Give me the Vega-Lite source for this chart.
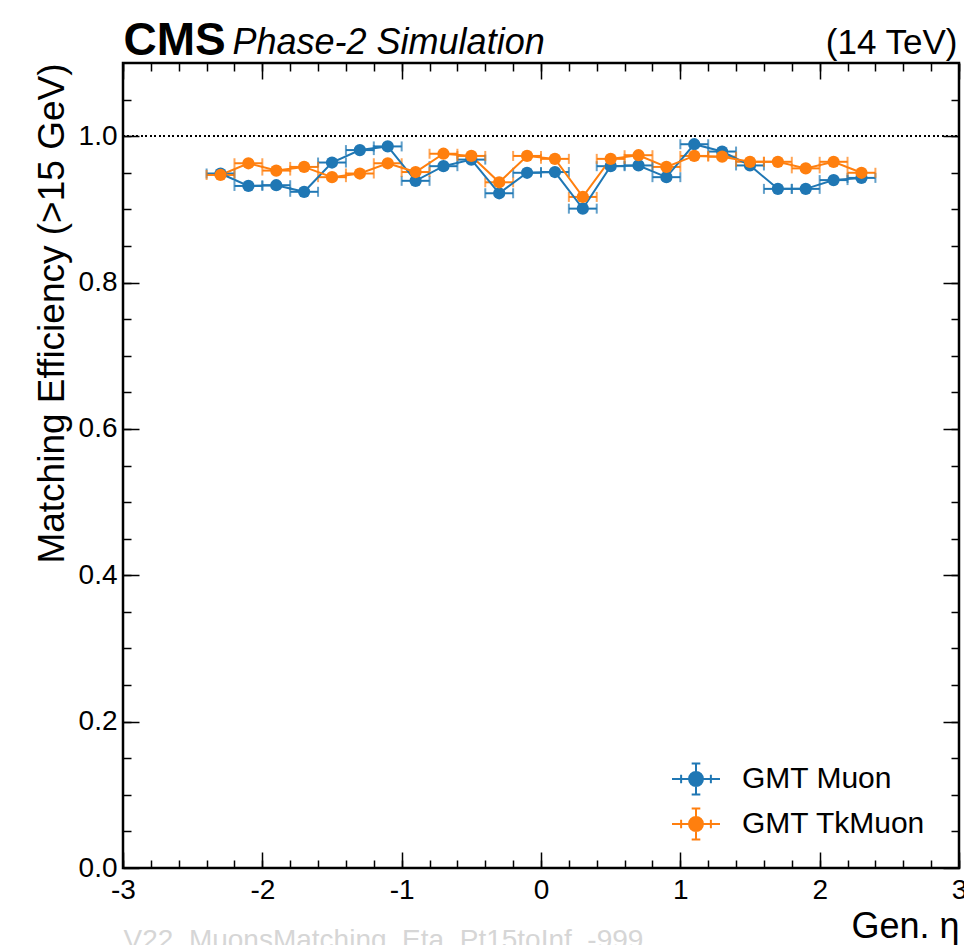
{
  "$schema": "https://vega.github.io/schema/vega-lite/v6.json",
  "width": 836,
  "height": 805,
  "autosize": "none",
  "padding": {"left": 123, "top": 63, "right": 5, "bottom": 77},
  "background": "white",
  "config": {
    "font": "Liberation Sans",
    "view": {"stroke": "black", "strokeWidth": 2.5},
    "axis": {
      "domain": false,
      "grid": false,
      "ticks": true,
      "tickColor": "black",
      "tickWidth": 1.5,
      "labelFont": "Liberation Sans",
      "labelFontSize": 28,
      "labelColor": "black",
      "labelFlush": false,
      "labelOverlap": false,
      "labelBound": false,
      "titleFont": "Liberation Sans",
      "titleColor": "black",
      "titleFontWeight": "normal"
    },
    "legend": {
      "orient": "none",
      "legendX": 548,
      "legendY": 691,
      "labelFont": "Liberation Sans",
      "labelFontSize": 30,
      "labelColor": "black",
      "labelLimit": 400,
      "symbolType": "M-1,0L1,0M0,-0.65L0,0.65M-0.62,-0.18L-0.62,0.18M0.62,-0.18L0.62,0.18M-0.18,-0.65L0.18,-0.65M-0.18,0.65L0.18,0.65M-0.29,0A0.29,0.29,0,1,0,0.29,0A0.29,0.29,0,1,0,-0.29,0Z",
      "symbolSize": 2304,
      "symbolStrokeWidth": 2,
      "symbolOpacity": 1,
      "labelOffset": 21,
      "rowPadding": -7,
      "padding": 0
    }
  },
  "data": {
    "values": [
      {"s": "GMT Muon", "eta": -2.3, "lo": -2.4, "hi": -2.2, "eff": 0.949},
      {"s": "GMT Muon", "eta": -2.1, "lo": -2.2, "hi": -2.0, "eff": 0.932},
      {"s": "GMT Muon", "eta": -1.9, "lo": -2.0, "hi": -1.8, "eff": 0.933},
      {"s": "GMT Muon", "eta": -1.7, "lo": -1.8, "hi": -1.6, "eff": 0.924},
      {"s": "GMT Muon", "eta": -1.5, "lo": -1.6, "hi": -1.4, "eff": 0.964},
      {"s": "GMT Muon", "eta": -1.3, "lo": -1.4, "hi": -1.2, "eff": 0.981},
      {"s": "GMT Muon", "eta": -1.1, "lo": -1.2, "hi": -1.0, "eff": 0.986},
      {"s": "GMT Muon", "eta": -0.9, "lo": -1.0, "hi": -0.8, "eff": 0.939},
      {"s": "GMT Muon", "eta": -0.7, "lo": -0.8, "hi": -0.6, "eff": 0.959},
      {"s": "GMT Muon", "eta": -0.5, "lo": -0.6, "hi": -0.4, "eff": 0.968},
      {"s": "GMT Muon", "eta": -0.3, "lo": -0.4, "hi": -0.2, "eff": 0.922},
      {"s": "GMT Muon", "eta": -0.1, "lo": -0.2, "hi": 0.0, "eff": 0.950},
      {"s": "GMT Muon", "eta": 0.1, "lo": 0.0, "hi": 0.2, "eff": 0.951},
      {"s": "GMT Muon", "eta": 0.3, "lo": 0.2, "hi": 0.4, "eff": 0.901},
      {"s": "GMT Muon", "eta": 0.5, "lo": 0.4, "hi": 0.6, "eff": 0.959},
      {"s": "GMT Muon", "eta": 0.7, "lo": 0.6, "hi": 0.8, "eff": 0.960},
      {"s": "GMT Muon", "eta": 0.9, "lo": 0.8, "hi": 1.0, "eff": 0.944},
      {"s": "GMT Muon", "eta": 1.1, "lo": 1.0, "hi": 1.2, "eff": 0.989},
      {"s": "GMT Muon", "eta": 1.3, "lo": 1.2, "hi": 1.4, "eff": 0.979},
      {"s": "GMT Muon", "eta": 1.5, "lo": 1.4, "hi": 1.6, "eff": 0.960},
      {"s": "GMT Muon", "eta": 1.7, "lo": 1.6, "hi": 1.8, "eff": 0.928},
      {"s": "GMT Muon", "eta": 1.9, "lo": 1.8, "hi": 2.0, "eff": 0.928},
      {"s": "GMT Muon", "eta": 2.1, "lo": 2.0, "hi": 2.2, "eff": 0.940},
      {"s": "GMT Muon", "eta": 2.3, "lo": 2.2, "hi": 2.4, "eff": 0.943},
      {"s": "GMT TkMuon", "eta": -2.3, "lo": -2.4, "hi": -2.2, "eff": 0.947},
      {"s": "GMT TkMuon", "eta": -2.1, "lo": -2.2, "hi": -2.0, "eff": 0.963},
      {"s": "GMT TkMuon", "eta": -1.9, "lo": -2.0, "hi": -1.8, "eff": 0.953},
      {"s": "GMT TkMuon", "eta": -1.7, "lo": -1.8, "hi": -1.6, "eff": 0.958},
      {"s": "GMT TkMuon", "eta": -1.5, "lo": -1.6, "hi": -1.4, "eff": 0.944},
      {"s": "GMT TkMuon", "eta": -1.3, "lo": -1.4, "hi": -1.2, "eff": 0.949},
      {"s": "GMT TkMuon", "eta": -1.1, "lo": -1.2, "hi": -1.0, "eff": 0.963},
      {"s": "GMT TkMuon", "eta": -0.9, "lo": -1.0, "hi": -0.8, "eff": 0.951},
      {"s": "GMT TkMuon", "eta": -0.7, "lo": -0.8, "hi": -0.6, "eff": 0.976},
      {"s": "GMT TkMuon", "eta": -0.5, "lo": -0.6, "hi": -0.4, "eff": 0.973},
      {"s": "GMT TkMuon", "eta": -0.3, "lo": -0.4, "hi": -0.2, "eff": 0.937},
      {"s": "GMT TkMuon", "eta": -0.1, "lo": -0.2, "hi": 0.0, "eff": 0.973},
      {"s": "GMT TkMuon", "eta": 0.1, "lo": 0.0, "hi": 0.2, "eff": 0.969},
      {"s": "GMT TkMuon", "eta": 0.3, "lo": 0.2, "hi": 0.4, "eff": 0.917},
      {"s": "GMT TkMuon", "eta": 0.5, "lo": 0.4, "hi": 0.6, "eff": 0.969},
      {"s": "GMT TkMuon", "eta": 0.7, "lo": 0.6, "hi": 0.8, "eff": 0.974},
      {"s": "GMT TkMuon", "eta": 0.9, "lo": 0.8, "hi": 1.0, "eff": 0.958},
      {"s": "GMT TkMuon", "eta": 1.1, "lo": 1.0, "hi": 1.2, "eff": 0.973},
      {"s": "GMT TkMuon", "eta": 1.3, "lo": 1.2, "hi": 1.4, "eff": 0.972},
      {"s": "GMT TkMuon", "eta": 1.5, "lo": 1.4, "hi": 1.6, "eff": 0.965},
      {"s": "GMT TkMuon", "eta": 1.7, "lo": 1.6, "hi": 1.8, "eff": 0.965},
      {"s": "GMT TkMuon", "eta": 1.9, "lo": 1.8, "hi": 2.0, "eff": 0.956},
      {"s": "GMT TkMuon", "eta": 2.1, "lo": 2.0, "hi": 2.2, "eff": 0.965},
      {"s": "GMT TkMuon", "eta": 2.3, "lo": 2.2, "hi": 2.4, "eff": 0.950}
    ]
  },
  "resolve": {"axis": {"x": "independent", "y": "independent"}},
  "layer": [
    {
      "mark": {"type": "rule", "color": "black", "strokeWidth": 1.5, "strokeDash": [1.5, 3]},
      "encoding": {
        "x": {"datum": -3, "type": "quantitative", "scale": {"domain": [-3, 3], "nice": false, "zero": false},
          "axis": {"orient": "top", "ticks": false, "labels": false, "title": "(14 TeV)", "titleFontSize": 35, "titleX": 834, "titleY": -10, "titleAlign": "right", "titleBaseline": "alphabetic", "titleAnchor": null}},
        "x2": {"datum": 3},
        "y": {"datum": 1, "type": "quantitative", "scale": {"domain": [0, 1.1], "nice": false, "zero": false}, "axis": null}
      }
    },
    {
      "mark": {"type": "rule", "strokeWidth": 2},
      "encoding": {
        "x": {"field": "lo", "type": "quantitative", "scale": {"domain": [-3, 3], "nice": false, "zero": false},
          "axis": {"orient": "bottom", "values": [-3, -2, -1, 0, 1, 2, 3], "labelExpr": "'' + datum.value", "tickSize": -16, "labelPadding": 24,
            "title": "Gen. η", "titleFontSize": 36, "titleX": 836, "titleY": 69, "titleAlign": "right", "titleBaseline": "alphabetic", "titleAnchor": null}},
        "x2": {"field": "hi"},
        "y": {"field": "eff", "type": "quantitative", "scale": {"domain": [0, 1.1], "nice": false, "zero": false},
          "axis": {"orient": "left", "values": [0, 0.2, 0.4, 0.6, 0.8, 1.0], "format": ".1f", "tickSize": -16, "labelPadding": 22,
            "title": "Matching Efficiency (>15 GeV)", "titleFontSize": 37, "titleAngle": 270, "titleX": -60, "titleY": 0, "titleAlign": "right", "titleBaseline": "alphabetic", "titleAnchor": null}},
        "color": {"field": "s", "type": "nominal", "title": null, "scale": {"domain": ["GMT Muon", "GMT TkMuon"], "range": ["#1f77b4", "#ff7f0e"]},
          "legend": {"encode": {"symbols": {"update": {"fill": {"scale": "color", "field": "value"}, "stroke": {"scale": "color", "field": "value"}}}}}}
      }
    },
    {
      "mark": {"type": "tick", "orient": "vertical", "size": 10, "thickness": 2},
      "encoding": {
        "x": {"field": "lo", "type": "quantitative",
          "axis": {"orient": "bottom", "values": [-3, -2.8, -2.6, -2.4, -2.2, -2, -1.8, -1.6, -1.4, -1.2, -1, -0.8, -0.6, -0.4, -0.2, 0, 0.2, 0.4, 0.6, 0.8, 1, 1.2, 1.4, 1.6, 1.8, 2, 2.2, 2.4, 2.6, 2.8, 3],
            "labels": false, "tickSize": -8,
            "title": "V22_MuonsMatching_Eta_Pt15toInf_-999", "titleColor": "#d6d6d6", "titleFontSize": 28, "titleX": 0, "titleY": 80, "titleAlign": "left", "titleBaseline": "alphabetic", "titleAnchor": null}},
        "y": {"field": "eff", "type": "quantitative",
          "axis": {"orient": "left", "values": [0.05, 0.1, 0.15, 0.2, 0.25, 0.3, 0.35, 0.4, 0.45, 0.5, 0.55, 0.6, 0.65, 0.7, 0.75, 0.8, 0.85, 0.9, 0.95, 1.0, 1.05], "labels": false, "tickSize": -8, "title": null}},
        "color": {"field": "s", "type": "nominal", "title": null}
      }
    },
    {
      "mark": {"type": "tick", "orient": "vertical", "size": 10, "thickness": 2},
      "encoding": {
        "x": {"field": "hi", "type": "quantitative",
          "axis": {"orient": "top", "values": [-3, -2, -1, 0, 1, 2, 3], "labels": false, "tickSize": -16,
            "title": "CMS", "titleFontSize": 46, "titleFontWeight": "bold", "titleX": 0, "titleY": -9, "titleAlign": "left", "titleBaseline": "alphabetic", "titleAnchor": null}},
        "y": {"field": "eff", "type": "quantitative",
          "axis": {"orient": "right", "values": [0, 0.2, 0.4, 0.6, 0.8, 1.0], "labels": false, "tickSize": -16, "title": null}},
        "color": {"field": "s", "type": "nominal", "title": null}
      }
    },
    {
      "mark": {"type": "line", "strokeWidth": 2},
      "encoding": {
        "x": {"field": "eta", "type": "quantitative",
          "axis": {"orient": "top", "values": [-3, -2.8, -2.6, -2.4, -2.2, -2, -1.8, -1.6, -1.4, -1.2, -1, -0.8, -0.6, -0.4, -0.2, 0, 0.2, 0.4, 0.6, 0.8, 1, 1.2, 1.4, 1.6, 1.8, 2, 2.2, 2.4, 2.6, 2.8, 3],
            "labels": false, "tickSize": -8,
            "title": "Phase-2 Simulation", "titleFontSize": 36, "titleFontStyle": "italic", "titleX": 109, "titleY": -10, "titleAlign": "left", "titleBaseline": "alphabetic", "titleAnchor": null}},
        "y": {"field": "eff", "type": "quantitative",
          "axis": {"orient": "right", "values": [0.05, 0.1, 0.15, 0.2, 0.25, 0.3, 0.35, 0.4, 0.45, 0.5, 0.55, 0.6, 0.65, 0.7, 0.75, 0.8, 0.85, 0.9, 0.95, 1.0, 1.05], "labels": false, "tickSize": -8, "title": null}},
        "color": {"field": "s", "type": "nominal", "title": null}
      }
    },
    {
      "mark": {"type": "circle", "size": 150, "opacity": 1},
      "encoding": {
        "x": {"field": "eta", "type": "quantitative", "axis": null},
        "y": {"field": "eff", "type": "quantitative", "axis": null},
        "color": {"field": "s", "type": "nominal", "title": null}
      }
    }
  ]
}
